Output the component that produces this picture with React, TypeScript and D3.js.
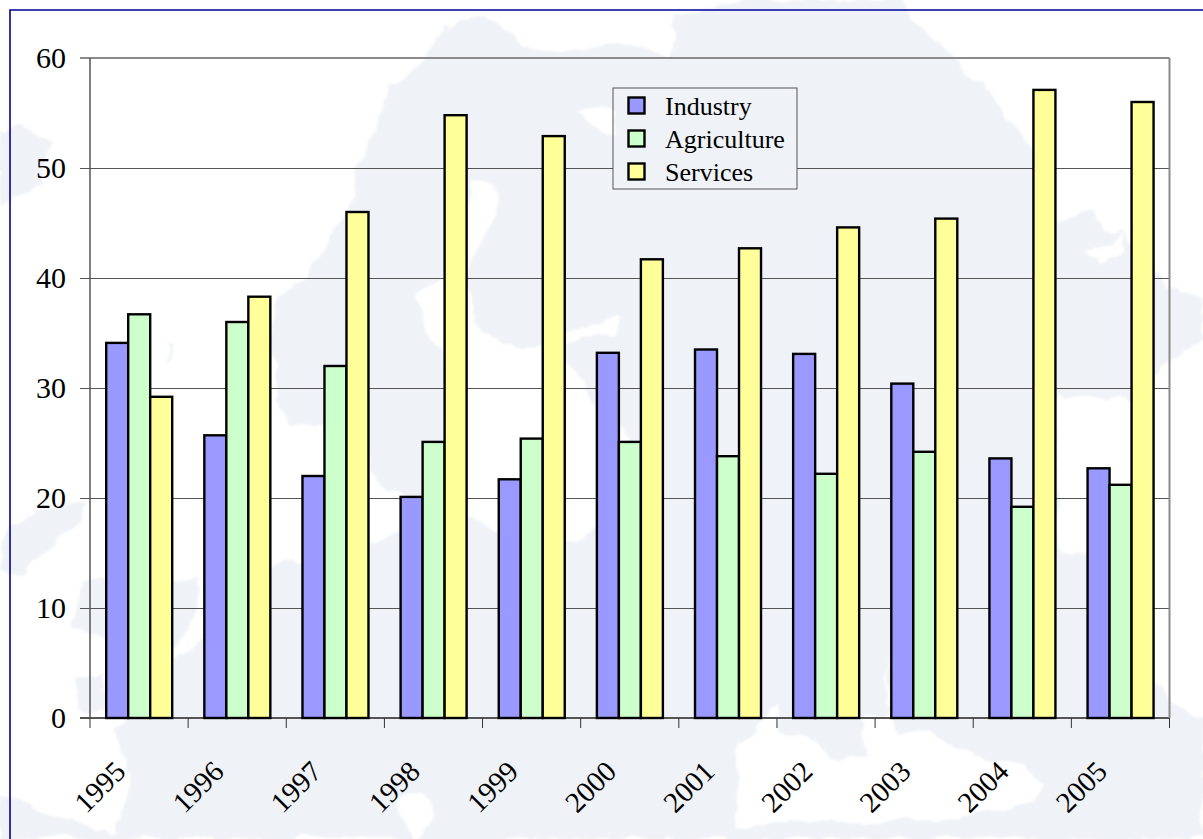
import React from "react";
import * as d3 from "d3";

// Chart values
const years = ["1995", "1996", "1997", "1998", "1999", "2000", "2001", "2002", "2003", "2004", "2005"];
const industry = [34.1, 25.7, 22.0, 20.1, 21.7, 33.2, 33.5, 33.1, 30.4, 23.6, 22.7];
const agriculture = [36.7, 36.0, 32.0, 25.1, 25.4, 25.1, 23.8, 22.2, 24.2, 19.2, 21.2];
const services = [29.2, 38.3, 46.0, 54.8, 52.9, 41.7, 42.7, 44.6, 45.4, 57.1, 56.0];
const yTicks = [0, 10, 20, 30, 40, 50, 60];
const seriesNames = ["Industry", "Agriculture", "Services"];
const seriesValues = [industry, agriculture, services];
const seriesFills = ["#9999ff", "#ccffcc", "#ffff99"];

// Decorative backdrop: a pale outline of Europe
type Pt = [number, number];
const mainland: Pt[] = [
  [483, 15], [447, 30], [419, 63], [389, 90], [370, 137], [352, 187], [348, 213], [328, 240], [305, 277], [276, 297],
  [273, 340], [280, 400], [290, 425], [368, 425], [370, 470], [385, 492], [405, 495], [425, 505], [419, 520], [380, 540],
  [328, 560], [277, 563], [221, 627], [174, 660], [125, 725], [113, 730], [133, 777], [133, 790], [113, 833], [50, 813],
  [0, 793], [0, 839], [1203, 839], [1203, 720], [1169, 700], [1155, 680], [1148, 600], [1131, 567], [1092, 550], [1058, 553],
  [1056, 393], [1131, 400], [1173, 360], [1203, 340], [1203, 300], [1188, 293], [1169, 287], [1123, 230], [1115, 233],
  [1092, 213], [1056, 220], [1035, 160], [1023, 133], [985, 90], [946, 50], [908, 10], [900, 0], [735, 0], [696, 13],
  [673, 17], [673, 57], [620, 42], [573, 50], [522, 50], [513, 33],
];
const islands: Pt[][] = [
  [[0, 133], [16, 130], [43, 137], [51, 143], [40, 187], [0, 203]],
  [[12, 520], [87, 500], [79, 520], [24, 573], [0, 570], [0, 553]],
  [[83, 583], [198, 577], [198, 613], [174, 653], [71, 627]],
  [[71, 677], [103, 673], [103, 713], [79, 713]],
  [[168, 343], [172, 343], [172, 363], [168, 363]],
  [[505, 377], [515, 377], [513, 403], [506, 403]],
];
const seas: Pt[][] = [
  [[471, 180], [496, 183], [502, 200], [480, 245], [468, 275], [474, 320], [498, 345], [540, 345], [593, 325], [620, 318],
   [620, 333], [600, 335], [560, 345], [590, 400], [630, 440], [625, 520], [560, 545], [490, 530], [443, 507], [445, 440],
   [443, 353], [427, 333], [419, 293], [440, 280], [465, 240]],
  [[808, 737], [831, 757], [869, 753], [860, 718], [888, 718], [888, 653], [884, 700], [900, 735], [919, 730], [969, 750],
   [1023, 767], [1042, 780], [1031, 803], [965, 817], [869, 823], [792, 820], [735, 830], [735, 787], [738, 747], [775, 705], [785, 730]],
  [[1085, 250], [1097, 268], [1128, 248], [1123, 232], [1112, 245]],
  [[395, 797], [427, 793], [435, 820], [411, 839]],
  [[575, 113], [612, 105], [612, 135], [595, 130]],
];

const WIDTH = 1203;
const HEIGHT = 839;
const plot = { left: 90, right: 1169.5, top: 58, bottom: 718 };
const legendBox = { x: 613, y: 88, w: 184, h: 101 };
const serif = "'Liberation Serif', 'Times New Roman', serif";

export default function App() {
  const y = d3.scaleLinear().domain([0, 60]).range([plot.bottom, plot.top]);
  const x = d3.scaleBand<string>().domain(years).range([plot.left, plot.right]);
  const inner = d3.scaleBand<string>().domain(seriesNames).range([16.2, 82.2]);
  const outline = d3.line<Pt>();
  const tickEdges = d3.range(years.length + 1).map((i) => plot.left + i * x.step());

  // Gridlines stop at the legend box
  const gridClip =
    `M0 0H${WIDTH}V${HEIGHT}H0Z` +
    `M${legendBox.x} ${legendBox.y}h${legendBox.w}v${legendBox.h}h${-legendBox.w}Z`;

  return (
    <svg
      width={WIDTH}
      height={HEIGHT}
      viewBox={`0 0 ${WIDTH} ${HEIGHT}`}
      style={{ position: "absolute", left: 0, top: 0, display: "block", background: "#ffffff" }}
      fontFamily={serif}
    >
      <defs>
        {/* Rough, soft coastlines */}
        <filter id="soft" x="-2%" y="-2%" width="104%" height="104%">
          <feTurbulence type="fractalNoise" baseFrequency="0.035" numOctaves={3} seed={4} result="noise" />
          <feDisplacementMap in="SourceGraphic" in2="noise" scale={16} xChannelSelector="R" yChannelSelector="G" />
          <feGaussianBlur stdDeviation="1.2" />
        </filter>
        <clipPath id="grid-clip">
          <path d={gridClip} clipRule="evenodd" />
        </clipPath>
      </defs>

      <g filter="url(#soft)">
        <path d={outline(mainland) + "Z"} fill="#eff2f7" />
        {islands.map((p, i) => (
          <path key={i} d={outline(p) + "Z"} fill="#eff2f7" />
        ))}
        {seas.map((p, i) => (
          <path key={i} d={outline(p) + "Z"} fill="#ffffff" />
        ))}
      </g>

      {/* Page frame */}
      <path d={`M10 ${HEIGHT}V10H${WIDTH}`} fill="none" stroke="#00009c" strokeWidth={1.6} />

      {/* Gridlines and plot border */}
      <g clipPath="url(#grid-clip)">
        {yTicks.map((t) => (
          <line
            key={t}
            x1={80}
            x2={plot.right}
            y1={y(t) + (t === 60 || t === 0 ? 0 : 0.5)}
            y2={y(t) + (t === 60 || t === 0 ? 0 : 0.5)}
            stroke={t === 60 ? "#8a8a8a" : "#555555"}
            strokeWidth={t === 60 || t === 0 ? 2 : 1.2}
          />
        ))}
      </g>
      <line x1={plot.right} x2={plot.right} y1={plot.top} y2={plot.bottom} stroke="#8a8a8a" strokeWidth={2} />
      <line x1={plot.left} x2={plot.left} y1={plot.top} y2={plot.bottom} stroke="#555555" strokeWidth={1.5} />

      {/* Bars */}
      {seriesNames.map((name, s) => (
        <g key={name}>
          {seriesValues[s].map((v, i) => (
            <rect
              key={years[i]}
              x={(x(years[i]) as number) + (inner(name) as number)}
              y={y(v)}
              width={inner.bandwidth()}
              height={y(0) - y(v)}
              fill={seriesFills[s]}
              stroke="#000000"
              strokeWidth={2.4}
            />
          ))}
        </g>
      ))}

      {/* Value axis labels */}
      {yTicks.map((t) => (
        <text key={t} x={66} y={y(t) + 10} textAnchor="end" fontSize={30} fill="#000000">
          {t}
        </text>
      ))}

      {/* Category axis */}
      {tickEdges.map((edge) => (
        <line key={edge} x1={edge} x2={edge} y1={plot.bottom} y2={plot.bottom + 10} stroke="#333333" strokeWidth={1} />
      ))}
      {years.map((year) => (
        <text
          key={year}
          transform={`translate(${(x(year) as number) + x.bandwidth() / 2 - 39},787) rotate(-45)`}
          textAnchor="middle"
          dy="0.33em"
          fontSize={29}
          fill="#000000"
        >
          {year}
        </text>
      ))}

      {/* Legend */}
      <rect x={legendBox.x} y={legendBox.y} width={legendBox.w} height={legendBox.h} fill="none" stroke="#555555" strokeWidth={1} />
      {seriesNames.map((name, s) => (
        <g key={name} transform={`translate(0,${s * 33})`}>
          <rect x={628.5} y={97.5} width={16} height={16} fill={seriesFills[s]} stroke="#000000" strokeWidth={2.4} />
          <text x={665} y={115} fontSize={26} fill="#000000">
            {name}
          </text>
        </g>
      ))}
    </svg>
  );
}
